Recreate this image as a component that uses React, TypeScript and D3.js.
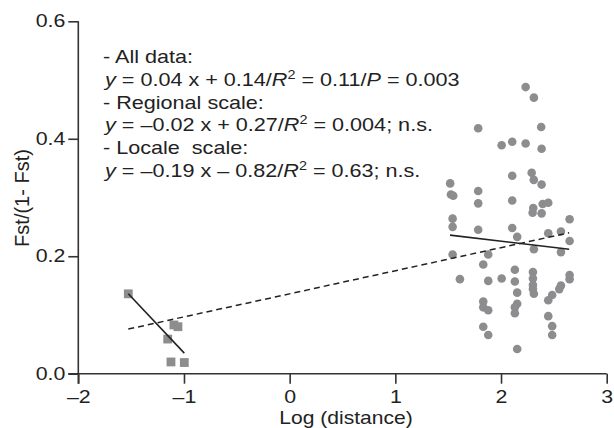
import React, { useEffect, useRef } from 'react';
import * as d3 from 'd3';

// axis ticks
const xTicks = [-2, -1, 0, 1, 2, 3];
const yTicks = [0, 0.2, 0.4, 0.6];

// locale scale samples (squares): [log distance, Fst/(1-Fst)]
const localeScale: [number, number][] = [
  [-1.527, 0.136], [-1.095, 0.083], [-1.057, 0.080], [-1.154, 0.059],
  [-1.123, 0.020], [-0.997, 0.019]
];

// regional scale samples (circles)
const regionalScale: [number, number][] = [
  [2.233, 0.488], [2.311, 0.470], [1.784, 0.418], [2.380, 0.420],
  [2.006, 0.389], [2.106, 0.395], [2.233, 0.392], [2.384, 0.383],
  [2.106, 0.337], [2.290, 0.342], [2.310, 0.330], [2.384, 0.322],
  [1.519, 0.324], [1.526, 0.305], [1.548, 0.303], [1.784, 0.311],
  [1.784, 0.290], [2.106, 0.295], [2.305, 0.282], [2.299, 0.274],
  [2.394, 0.289], [2.447, 0.291], [2.384, 0.273], [2.649, 0.263],
  [1.542, 0.264], [1.542, 0.250], [1.784, 0.245], [2.106, 0.248],
  [2.153, 0.233], [2.447, 0.239], [2.567, 0.242], [2.649, 0.226],
  [1.542, 0.203], [1.879, 0.203], [1.832, 0.186], [2.311, 0.212],
  [2.567, 0.207], [1.611, 0.161], [1.879, 0.158], [2.006, 0.162],
  [2.131, 0.177], [2.131, 0.157], [2.153, 0.138], [2.302, 0.173],
  [2.302, 0.162], [2.302, 0.151], [2.302, 0.144], [2.311, 0.136],
  [2.649, 0.168], [2.649, 0.161], [2.567, 0.150], [2.551, 0.144],
  [2.484, 0.134], [2.447, 0.125], [1.832, 0.123], [1.832, 0.113],
  [1.879, 0.108], [2.153, 0.119], [2.131, 0.113], [2.131, 0.103],
  [2.447, 0.098], [1.832, 0.080], [1.879, 0.066], [2.484, 0.081],
  [2.484, 0.066], [2.153, 0.042]
];

// fitted lines, endpoints
const fitAll: [number, number][] = [[-1.527, 0.076], [2.645, 0.240]];
const fitRegional: [number, number][] = [[1.517, 0.236], [2.645, 0.212]];
const fitLocale: [number, number][] = [[-1.527, 0.136], [-0.997, 0.035]];

type Seg = { t: string; i?: boolean; sup?: boolean };
const notes: Seg[][] = [
  [{ t: '- All data:' }],
  [{ t: 'y', i: true }, { t: ' = 0.04 x + 0.14/' }, { t: 'R', i: true }, { t: '2', sup: true },
   { t: ' = 0.11/' }, { t: 'P', i: true }, { t: ' = 0.003' }],
  [{ t: '- Regional scale:' }],
  [{ t: 'y', i: true }, { t: ' = \u20130.02 x + 0.27/' }, { t: 'R', i: true }, { t: '2', sup: true },
   { t: ' = 0.004; n.s.' }],
  [{ t: '- Locale\u00a0 scale:' }],
  [{ t: 'y', i: true }, { t: ' = \u20130.19 x \u2013 0.82/' }, { t: 'R', i: true }, { t: '2', sup: true },
   { t: ' = 0.63; n.s.' }]
];

const FONT = '"Liberation Sans", Arial, Helvetica, sans-serif';
const INK = '#222';
const DOT = '#8d8d90';

export default function App() {
  const xRef = useRef<SVGGElement>(null);
  const yRef = useRef<SVGGElement>(null);

  const x = d3.scaleLinear().domain([-2, 3]).range([78.3, 606.7]);
  const y = d3.scaleLinear().domain([0, 0.6]).range([373.7, 21.3]);
  const line = d3.line<[number, number]>().x(d => x(d[0])).y(d => y(d[1]));
  const fmt = (d: number) => (d < 0 ? '\u2013' + Math.abs(d) : String(d));

  useEffect(() => {
    const gx = d3.select(xRef.current);
    gx.call(d3.axisBottom(x).tickValues(xTicks).tickFormat(d => fmt(+d))
      .tickSize(10).tickSizeOuter(0).tickPadding(7));
    gx.selectAll('path, line').attr('stroke', '#333').attr('stroke-width', 1.6);
    gx.selectAll('text').attr('fill', INK).style('font-family', FONT)
      .style('font-size', '17.5px').attr('transform', 'scale(1.22,1)');

    const gy = d3.select(yRef.current);
    gy.call(d3.axisLeft(y).tickValues(yTicks).tickFormat(d3.format('.1f'))
      .tickSize(10).tickSizeOuter(0).tickPadding(3));
    gy.selectAll('path, line').attr('stroke', '#333').attr('stroke-width', 1.6);
    gy.selectAll('text').attr('fill', INK).style('font-family', FONT)
      .style('font-size', '17.5px').attr('x', -13 / 1.22).attr('transform', 'scale(1.22,1)');
    gx.select('.domain').remove();
    gy.select('.domain').remove();
  }, []);

  return (
    <svg width={614} height={428} style={{ position: 'absolute', left: 0, top: 0, background: '#fff' }}>
      <g ref={xRef} transform={`translate(0,${y(0)})`} />
      <g ref={yRef} transform={`translate(${x(-2)},0)`} />
      <line x1={x(-2) - 10} x2={x(3)} y1={y(0)} y2={y(0)} stroke="#333" strokeWidth={1.6} />
      <line x1={x(-2)} x2={x(-2)} y1={y(0.6)} y2={y(0) + 10} stroke="#333" strokeWidth={1.6} />

      {regionalScale.map((d, i) => (
        <circle key={'c' + i} cx={x(d[0])} cy={y(d[1])} r={4.3} fill={DOT} />
      ))}
      {localeScale.map((d, i) => (
        <rect key={'s' + i} x={x(d[0]) - 4.4} y={y(d[1]) - 4.4} width={8.8} height={8.8} fill={DOT} />
      ))}

      <path d={line(fitAll) || ''} stroke={INK} strokeWidth={1.5} strokeDasharray="6,4" fill="none" />
      <path d={line(fitRegional) || ''} stroke={INK} strokeWidth={1.6} fill="none" />
      <path d={line(fitLocale) || ''} stroke={INK} strokeWidth={1.6} fill="none" />

      {notes.map((segs, li) => {
        let lifted = false;
        return (
          <text key={li} transform={`translate(${li % 2 ? 105 : 103},${63 + li * 22.8}) scale(1.2,1)`}
            fontFamily={FONT} fontSize={18} fill={INK}>
            {segs.map((s, si) => {
              let dy = 0;
              if (s.sup && !lifted) { dy = -7; lifted = true; }
              else if (!s.sup && lifted) { dy = 7; lifted = false; }
              return (
                <tspan key={si} dy={dy || undefined} fontStyle={s.i ? 'italic' : undefined}
                  fontSize={s.sup ? 12 : undefined}>{s.t}</tspan>
              );
            })}
          </text>
        );
      })}

      <text transform={`translate(346,424) scale(1.17,1)`} textAnchor="middle"
        fontFamily={FONT} fontSize={18} fill={INK}>Log (distance)</text>
      <text transform="translate(28.5,198) rotate(-90)" textAnchor="middle"
        fontFamily={FONT} fontSize={20} fill={INK}>Fst/(1- Fst)</text>
    </svg>
  );
}
